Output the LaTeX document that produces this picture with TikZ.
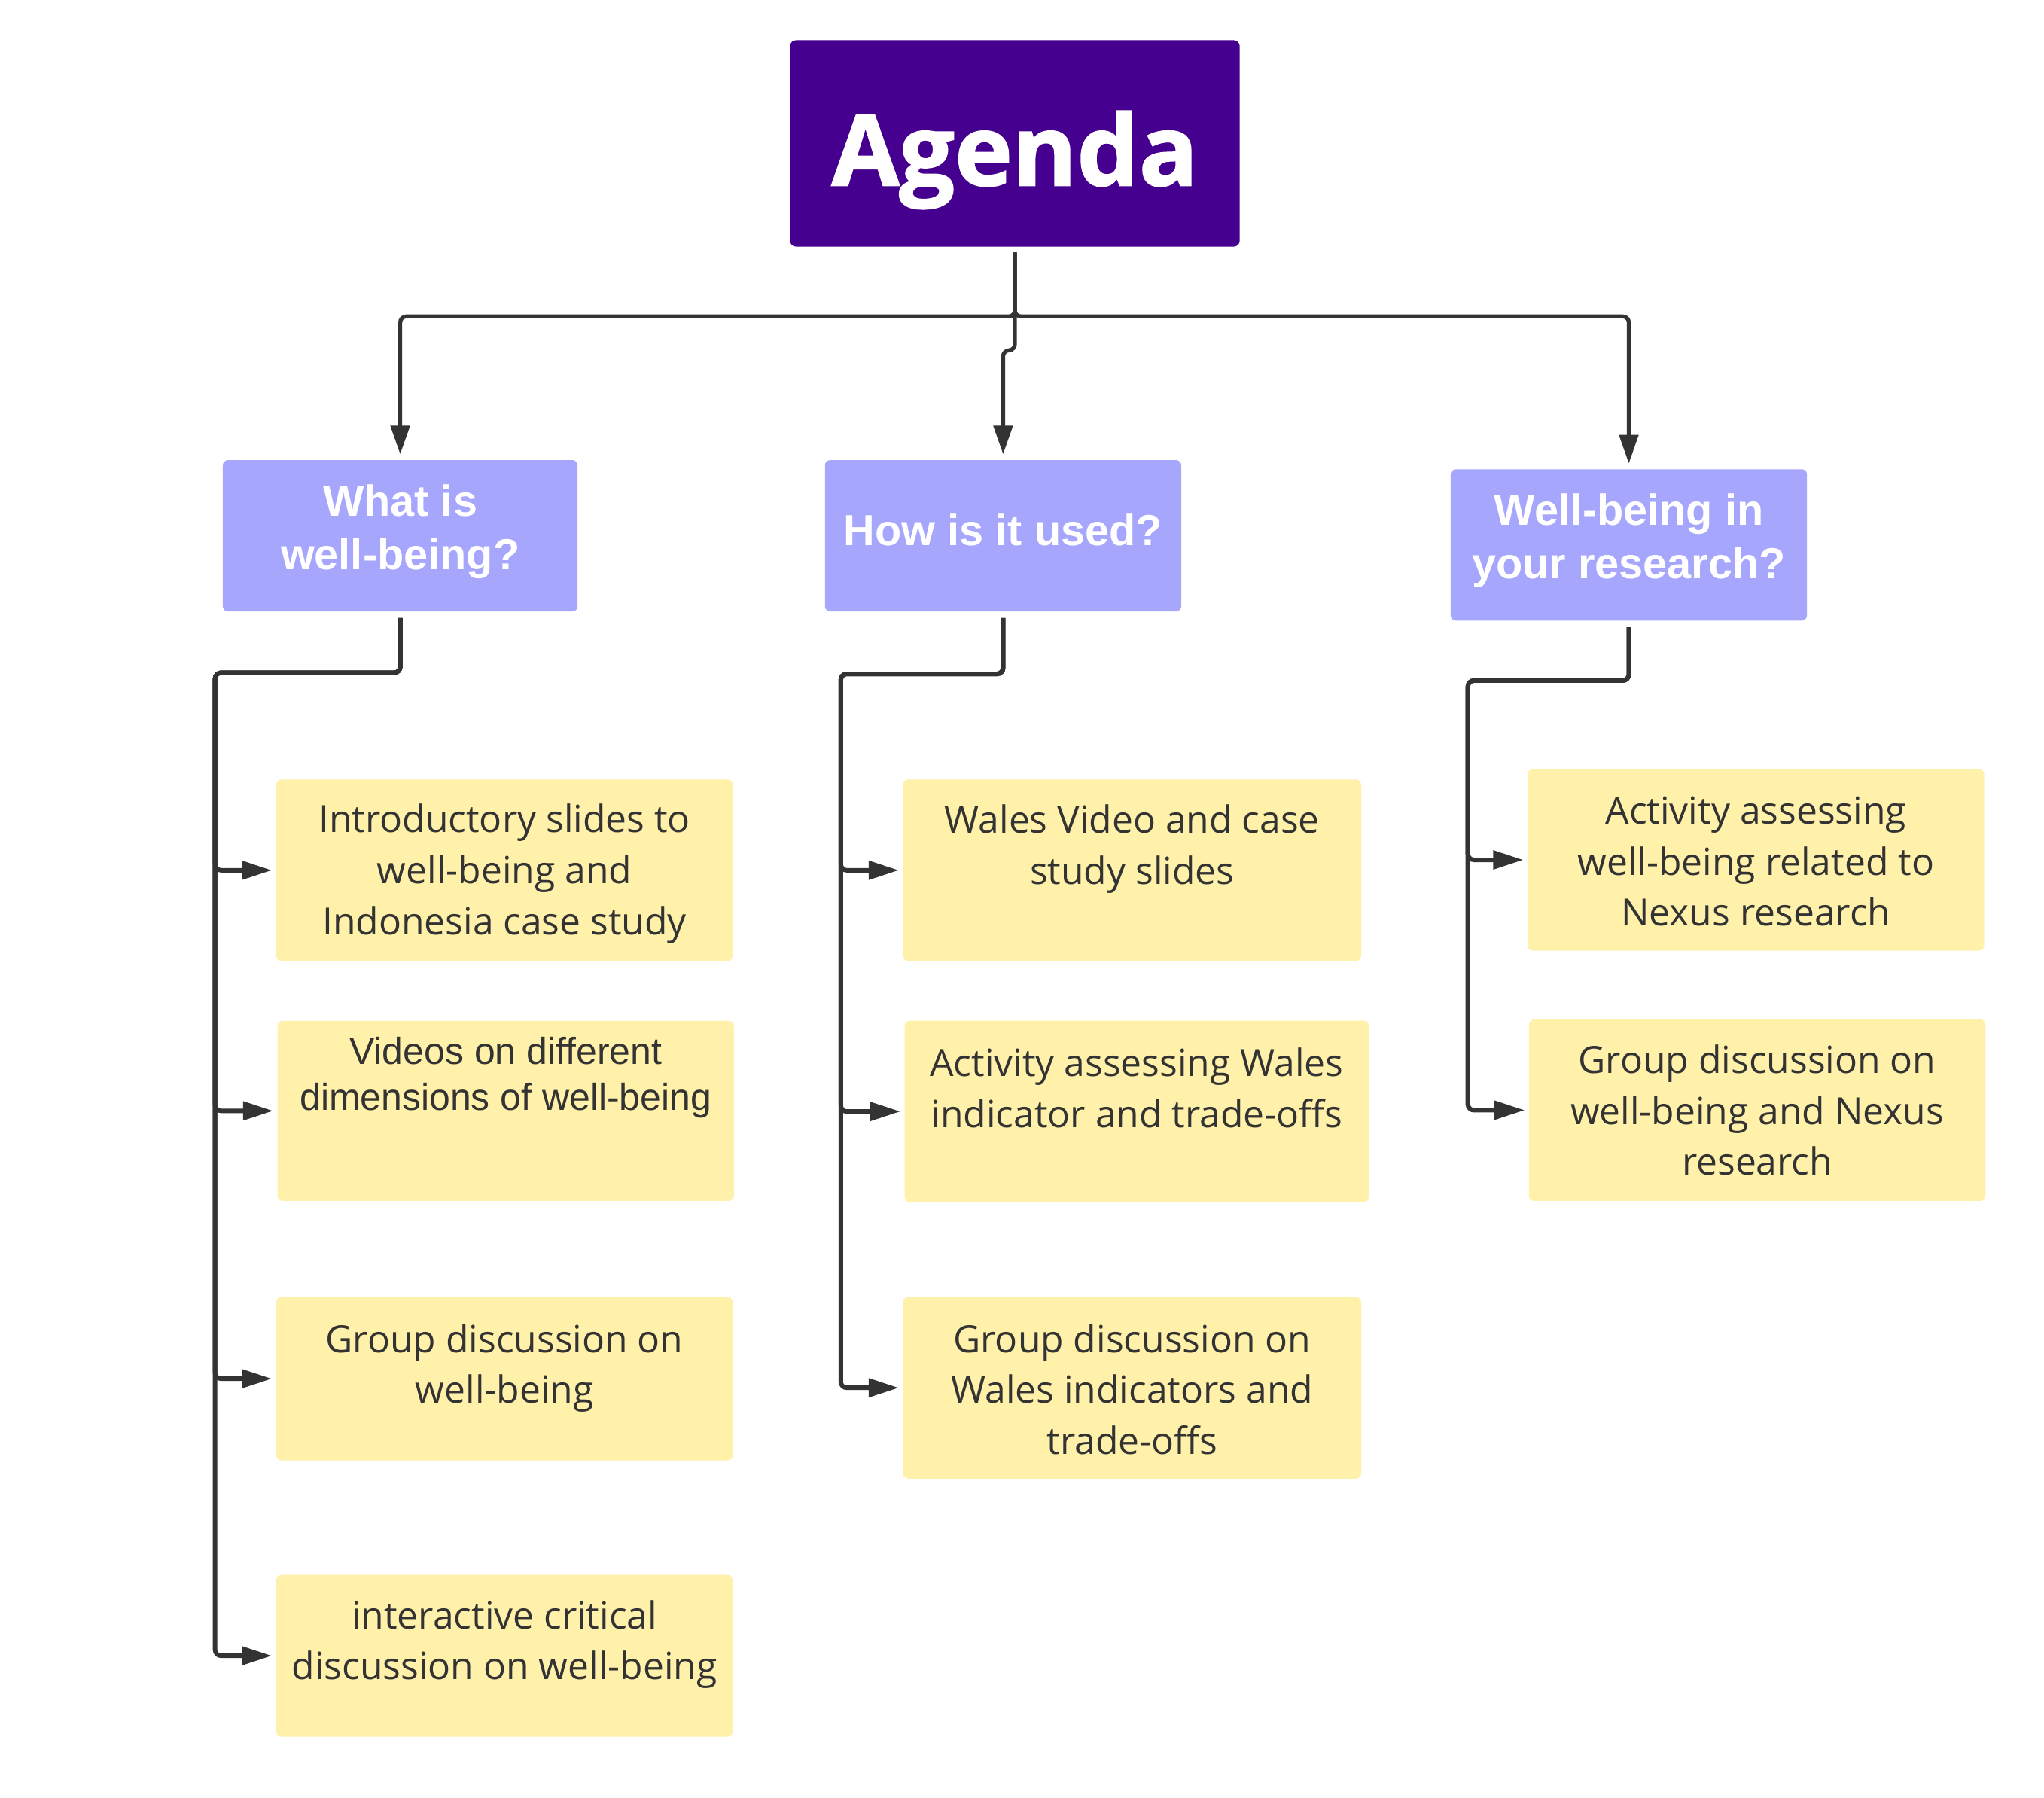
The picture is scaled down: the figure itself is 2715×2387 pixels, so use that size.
\documentclass[tikz,border=0pt]{standalone}
\usepackage{fontspec}
\usetikzlibrary{arrows.meta,calc}
\newfontfamily\ofont{Open Sans}
\newfontfamily\oheavy{Open Sans}[BoldFeatures={FakeBold=1.5}]
\newfontfamily\afont{Liberation Sans}
\definecolor{agendac}{RGB}{70,0,143}
\definecolor{headc}{RGB}{166,166,252}
\definecolor{itemc}{RGB}{255,240,170}
\definecolor{txtc}{RGB}{51,51,51}
\definecolor{linec}{RGB}{51,51,51}
\tikzset{
  agendabox/.style={fill=agendac, rounded corners=0.08cm, inner sep=0pt},
  agendatext/.style={text=white, inner sep=0pt,
    font=\oheavy\bfseries\fontsize{37}{40}\selectfont},
  headbox/.style={fill=headc, rounded corners=0.07cm, inner sep=0pt},
  itembox/.style={fill=itemc, rounded corners=0.07cm, inner sep=0pt},
  headtext/.style={font=\afont\bfseries\fontsize{16.4}{20.2}\selectfont,
    text=white, align=center, inner sep=0pt},
  itemtext/.style={font=\ofont\fontsize{14.15}{19.3}\selectfont,
    text=txtc, align=center, inner sep=0pt},
  arialtext/.style={font=\afont\fontsize{14.2}{17.2}\selectfont,
    text=txtc, align=center, inner sep=0pt},
  topconn/.style={draw=linec, line width=1.5pt, rounded corners=0.08cm,
    -{Triangle[length=0.38cm,width=0.25cm]}, shorten <=0.07cm, shorten >=0.07cm},
  subconn/.style={draw=linec, line width=1.7pt, rounded corners=0.08cm,
    -{Triangle[length=0.4cm,width=0.24cm]}, shorten <=0.08cm, shorten >=0.05cm},
}
\begin{document}
\begin{tikzpicture}[x=0.01cm,y=-0.01cm]
\useasboundingbox (0,0) rectangle (2715,2387);
% title
\node[agendabox, minimum width=5.97cm, minimum height=2.74cm] (agenda) at (1348,190.5) {};
\node[agendatext] (agendat) at ($(agenda.center)+(0,22)$) {Agenda};
% headers
\node[headbox, minimum width=4.71cm, minimum height=2.01cm] (h1) at (531.6,711.6) {};
\node[headbox, minimum width=4.73cm, minimum height=2.01cm] (h2) at (1332.4,711.6) {};
\node[headbox, minimum width=4.73cm, minimum height=2.01cm] (h3) at (2163.5,723.8) {};
\node[headtext] (h1t) at ($(h1.center)+(0,-5)$) {What is\\well-being?};
\node[headtext] (h2t) at ($(h2.center)+(0,-8)$) {How is it used?};
\node[headtext] (h3t) at ($(h3.center)+(0,-6)$) {Well-being in\\your research?};
% left column
\node[itembox, minimum width=6.06cm, minimum height=2.41cm] (l1) at (670.1,1155.8) {};
\node[itembox, minimum width=6.06cm, minimum height=2.39cm] (l2) at (671.8,1475.3) {};
\node[itembox, minimum width=6.06cm, minimum height=2.17cm] (l3) at (670.1,1831.1) {};
\node[itembox, minimum width=6.06cm, minimum height=2.15cm] (l4) at (670.1,2199.1) {};
\node[itemtext] (l1t) at ($(l1.center)+(0,5)$) {Introductory slides to\\well-being and\\Indonesia case study};
\node[arialtext] (l2t) at ($(l2.center)+(0,-44)$) {Videos on different\\dimensions of well-being};
\node[itemtext] (l3t) at ($(l3.center)+(0,-14)$) {Group discussion on\\well-being};
\node[itemtext] (l4t) at ($(l4.center)+(0,-15)$) {interactive critical\\discussion on well-being};
% middle column
\node[itembox, minimum width=6.08cm, minimum height=2.41cm] (m1) at (1503.8,1155.8) {};
\node[itembox, minimum width=6.16cm, minimum height=2.41cm] (m2) at (1509.9,1476.1) {};
\node[itembox, minimum width=6.08cm, minimum height=2.41cm] (m3) at (1503.8,1843.2) {};
\node[itemtext] (m1t) at ($(m1.center)+(0,-28)$) {Wales Video and case\\study slides};
\node[itemtext] (m2t) at ($(m2.center)+(0,-31)$) {Activity assessing Wales\\indicator and trade-offs};
\node[itemtext] (m3t) at ($(m3.center)+(0,2)$) {Group discussion on\\Wales indicators and\\trade-offs};
% right column
\node[itembox, minimum width=6.06cm, minimum height=2.41cm] (r1) at (2332.3,1142.0) {};
\node[itembox, minimum width=6.06cm, minimum height=2.41cm] (r2) at (2334.1,1474.4) {};
\node[itemtext] (r1t) at ($(r1.center)+(0,2)$) {Activity assessing\\well-being related to\\Nexus research};
\node[itemtext] (r2t) at (r2.center) {Group discussion on\\well-being and Nexus\\research};
% top connectors
\draw[topconn] (agenda.south) -- ++(0,92) -| (h1.north);
\draw[topconn] (agenda.south) -- ++(0,137) -| (h2.north);
\draw[topconn] (agenda.south) -- ++(0,92) -| (h3.north);
% trunk corners
\coordinate (t1) at (285.7,893.5);
\coordinate (t2) at (1116.8,895);
\coordinate (t3) at (1949.7,903.9);
\foreach \b in {l1,l2,l3,l4} \draw[subconn] (h1.south) |- (t1) |- (\b.west);
\foreach \b in {m1,m2,m3} \draw[subconn] (h2.south) |- (t2) |- (\b.west);
\foreach \b in {r1,r2} \draw[subconn] (h3.south) |- (t3) |- (\b.west);
\end{tikzpicture}
\end{document}
